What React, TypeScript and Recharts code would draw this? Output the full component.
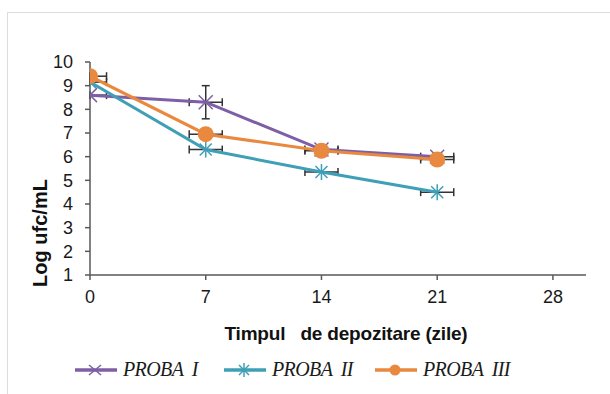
import React from 'react';
import { ComposedChart, Scatter, XAxis, YAxis, ErrorBar, Legend, Label } from 'recharts';

const days = [0, 7, 14, 21];
const proba1 = [8.6, 8.3, 6.3, 6.0];
const proba2 = [9.15, 6.3, 5.35, 4.5];
const proba3 = [9.4, 6.95, 6.25, 5.88];
const errX = [[0, 1], [1, 1], [1, 1], [1, 1]];
const errY1 = [0, 0.7, 0, 0];
const xTicks = [0, 7, 14, 21, 28];
const yTicks = [1, 2, 3, 4, 5, 6, 7, 8, 9, 10];

const COLORS = ['#7D5FA5', '#3E9FB6', '#E8893F'];
const NAMES = ['PROBA  I', 'PROBA  II', 'PROBA  III'];

const build = (vals: number[], ey?: number[]) =>
  days.map((d, i) => ({ x: d, y: vals[i], ex: errX[i], ey: ey ? ey[i] : 0 }));

const data1 = build(proba1, errY1);
const data2 = build(proba2);
const data3 = build(proba3);

const CrossMark = (p: any) => {
  const { cx, cy } = p;
  const s = 7;
  return (
    <g stroke={COLORS[0]} strokeWidth={1.5}>
      <line x1={cx - s} y1={cy - s} x2={cx + s} y2={cy + s} />
      <line x1={cx - s} y1={cy + s} x2={cx + s} y2={cy - s} />
    </g>
  );
};
const StarMark = (p: any) => {
  const { cx, cy } = p;
  const s = 6;
  return (
    <g stroke={COLORS[1]} strokeWidth={1.5}>
      <line x1={cx - s} y1={cy - s} x2={cx + s} y2={cy + s} />
      <line x1={cx - s} y1={cy + s} x2={cx + s} y2={cy - s} />
      <line x1={cx} y1={cy - s - 2} x2={cx} y2={cy + s + 2} />
    </g>
  );
};
const DotMark = (p: any) => {
  const { cx, cy } = p;
  return <circle cx={cx} cy={cy} r={8} fill={COLORS[2]} />;
};

const LegendContent = () => {
  const icons = [
    <g stroke={COLORS[0]} strokeWidth={1.5}><line x1={14} y1={2} x2={26} y2={12} /><line x1={14} y1={12} x2={26} y2={2} /></g>,
    <g stroke={COLORS[1]} strokeWidth={1.5}><line x1={15} y1={2} x2={25} y2={12} /><line x1={15} y1={12} x2={25} y2={2} /><line x1={20} y1={0} x2={20} y2={14} /></g>,
    <circle cx={20} cy={7} r={5.5} fill={COLORS[2]} />,
  ];
  const lefts = [75, 224, 375];
  return (
    <div style={{ position: 'relative', width: 610, height: 30 }}>
      {NAMES.map((n, i) => (
        <div key={n} style={{ position: 'absolute', left: lefts[i], top: 0, display: 'flex', alignItems: 'center' }}>
          <svg width={42} height={14} style={{ display: 'block' }}>
            <line x1={0} y1={7} x2={42} y2={7} stroke={COLORS[i]} strokeWidth={3.5} />
            {icons[i]}
          </svg>
          <span style={{ marginLeft: 6, fontFamily: '"Liberation Serif", serif', fontStyle: 'italic', fontSize: 20, color: '#1a1a1a', whiteSpace: 'pre', letterSpacing: -0.6 }}>{n}</span>
        </div>
      ))}
    </div>
  );
};

const axisColor = '#595959';
const tickStyle = { fontFamily: '"Liberation Sans", Arial, sans-serif', fontSize: 18, fill: '#1a1a1a' };

export default function App() {
  return (
    <div style={{ position: 'absolute', left: 0, top: 0, width: 610, height: 394, background: '#fff', overflow: 'hidden' }}>
      <div style={{ position: 'absolute', left: 7, top: 12, width: 700, height: 500, borderLeft: '1px solid #dcdcdc', borderTop: '1px solid #dcdcdc' }} />
      <ComposedChart width={610} height={394} margin={{ top: 62, right: 24, left: 30, bottom: 24 }}>
        <XAxis
          type="number"
          dataKey="x"
          domain={[0, 30]}
          ticks={xTicks}
          interval={0}
          allowDataOverflow
          stroke={axisColor}
          strokeWidth={1.5}
          tickSize={5}
          tick={tickStyle}
          tickMargin={10}
          height={65}
        >
          <Label
            content={() => (
              <text x={346} y={340} textAnchor="middle" style={{ fontFamily: '"Liberation Sans", Arial, sans-serif', fontWeight: 'bold', fontSize: 19, fill: '#111', whiteSpace: 'pre', letterSpacing: -0.2 }}>
                {'Timpul   de depozitare (zile)'}
              </text>
            )}
          />
        </XAxis>
        <YAxis
          type="number"
          dataKey="y"
          domain={[1, 10]}
          ticks={yTicks}
          interval={0}
          allowDataOverflow
          stroke={axisColor}
          strokeWidth={1.5}
          tickSize={5}
          tick={tickStyle}
          tickMargin={12}
          width={60}
        >
          <Label
            content={() => (
              <text transform="translate(47,233) rotate(-90)" textAnchor="middle" style={{ fontFamily: '"Liberation Sans", Arial, sans-serif', fontWeight: 'bold', fontSize: 20, fill: '#111' }}>
                Log ufc/mL
              </text>
            )}
          />
        </YAxis>
        <Scatter name={NAMES[0]} data={data1} line={{ stroke: COLORS[0], strokeWidth: 3 }} shape={CrossMark} isAnimationActive={false}>
          <ErrorBar dataKey="ex" direction="x" width={4} stroke="#333" strokeWidth={1.5} />
          <ErrorBar dataKey="ey" direction="y" width={4} stroke="#333" strokeWidth={1.5} />
        </Scatter>
        <Scatter name={NAMES[1]} data={data2} line={{ stroke: COLORS[1], strokeWidth: 3 }} shape={StarMark} isAnimationActive={false}>
          <ErrorBar dataKey="ex" direction="x" width={4} stroke="#333" strokeWidth={1.5} />
        </Scatter>
        <Scatter name={NAMES[2]} data={data3} line={{ stroke: COLORS[2], strokeWidth: 3 }} shape={DotMark} isAnimationActive={false}>
          <ErrorBar dataKey="ex" direction="x" width={4} stroke="#333" strokeWidth={1.5} />
        </Scatter>
        <Legend content={<LegendContent />} wrapperStyle={{ position: 'absolute', left: 0, top: 358, width: 610 }} />
      </ComposedChart>
    </div>
  );
}
